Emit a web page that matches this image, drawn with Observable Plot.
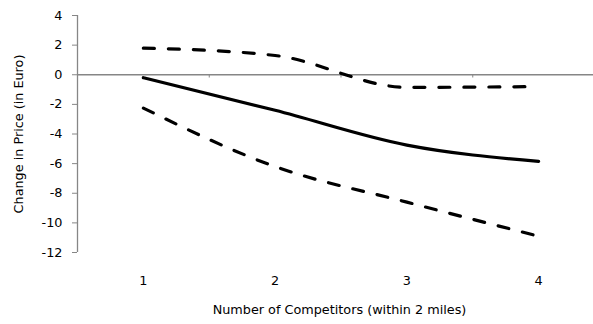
<!DOCTYPE html>
<html>
<head>
<meta charset="utf-8">
<script src="https://cdn.jsdelivr.net/npm/d3@7"></script>
<script src="https://cdn.jsdelivr.net/npm/@observablehq/plot@0.6"></script>
<style>
  body { margin: 0; background: #fff; }
</style>
</head>
<body>
<div id="chart"></div>
<script>
const competitors = [1, 2, 3, 4];
const upperBound = [1.8, 1.3, -0.85, -0.8];
const estimate = [-0.2, -2.4, -4.75, -5.85];
const lowerBound = [-2.25, -6.2, -8.6, -10.9];
const yTicks = [4, 2, 0, -2, -4, -6, -8, -10, -12];
const xTicks = [1, 2, 3, 4];
const boundaries = [1.5, 2.5, 3.5];

const toRows = (vals) => competitors.map((c, i) => ({x: c, y: vals[i]}));
const gray = "#868686";

const chart = Plot.plot({
  width: 593,
  height: 324,
  marginLeft: 77,
  marginRight: 0,
  marginTop: 15,
  marginBottom: 72,
  style: {fontSize: "12.8px", fontFamily: "'DejaVu Sans', sans-serif", color: "#000", background: "#fff"},
  x: {domain: [0.5, 4.5], range: [77, 604]},
  y: {domain: [-12, 4]},
  marks: [
    Plot.ruleY([0], {stroke: gray, strokeWidth: 1.3}),
    Plot.ruleX(boundaries, {y1: 0, y2: -0.22, stroke: gray, strokeWidth: 1}),
    Plot.ruleX([0.5], {y1: -12, y2: 4, stroke: gray, strokeWidth: 1.3}),
    Plot.axisY({ticks: yTicks, tickSize: 5, tickPadding: 10, stroke: gray, label: null, fill: "#000", tickFormat: d => String(d)}),
    Plot.axisX({ticks: xTicks, tickSize: 0, tickPadding: 23, label: null, fill: "#000", tickFormat: d => String(d)}),
    Plot.line(toRows(upperBound), {x: "x", y: "y", stroke: "#000", strokeWidth: 3.2, strokeDasharray: "11,14", strokeLinecap: "round", curve: "monotone-x"}),
    Plot.line(toRows(estimate), {x: "x", y: "y", stroke: "#000", strokeWidth: 3.2, curve: "monotone-x"}),
    Plot.line(toRows(lowerBound), {x: "x", y: "y", stroke: "#000", strokeWidth: 3.2, strokeDasharray: "11,14", strokeLinecap: "round", curve: "monotone-x"}),
    Plot.text(["Number of Competitors (within 2 miles)"], {frameAnchor: "bottom", dy: 57, dx: 4, lineAnchor: "middle", textAnchor: "middle", fill: "#000"}),
    Plot.text(["Change in Price (in Euro)"], {frameAnchor: "left", dx: -59, rotate: -90, lineAnchor: "middle", textAnchor: "middle", fill: "#000"})
  ]
});
document.getElementById("chart").appendChild(chart);
</script>
</body>
</html>
